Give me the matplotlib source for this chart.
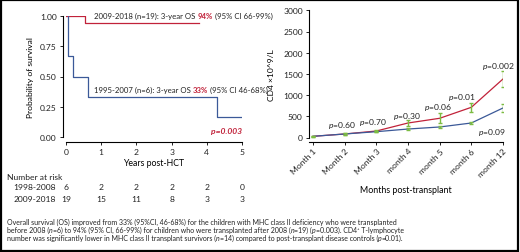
import matplotlib
matplotlib.use("Agg")
import matplotlib.pyplot as plt
from matplotlib.patches import Rectangle
from matplotlib import font_manager

names = {f.name for f in font_manager.fontManager.ttflist}
narrow = "Liberation Sans Narrow" if "Liberation Sans Narrow" in names else "Lato"
plt.rcParams['font.family'] = [narrow, 'Lato', 'DejaVu Sans']
plt.rcParams['mathtext.fontset'] = 'custom'
plt.rcParams['mathtext.rm'] = narrow
plt.rcParams['mathtext.it'] = narrow + ':italic'
plt.rcParams['mathtext.bf'] = narrow + ':bold'

# ---------------- data ----------------
km_red_t = [0.0, 0.54, 0.54, 3.78]
km_red_s = [1.00, 1.00, 0.94, 0.94]
km_blue_t = [0.06, 0.06, 0.20, 0.20, 0.63, 0.63, 4.30, 4.30, 4.99]
km_blue_s = [1.00, 0.667, 0.667, 0.50, 0.50, 0.333, 0.333, 0.167, 0.167]
year_ticks = [0, 1, 2, 3, 4, 5]
risk_1998 = [6, 2, 2, 2, 2, 0]
risk_2009 = [19, 15, 11, 8, 3, 3]

months = ["Month 1", "Month 2", "Month 3", "month 4", "month 5", "month 6", "month 12"]
cd4_red = [28, 83, 153, 342, 453, 712, 1380]
cd4_red_err = [15, 20, 25, 60, 120, 110, 185]
cd4_blue = [28, 83, 137, 200, 248, 342, 696]
cd4_blue_err = [10, 15, 15, 20, 30, 35, 90]
p_labels = ["0.60", "0.70", "0.30", "0.06", "0.01", "0.002", "0.09"]
p_pos = [(0.91, 295), (1.90, 373), (2.97, 514), (3.94, 720), (4.70, 972), (5.86, 1693), (5.66, 146)]

RED = "#c1223a"
BLUE = "#3b5998"
GREEN = "#7cbc42"
TXT = "#222222"
W, H = 520, 253

fig = plt.figure(figsize=(W / 100, H / 100), dpi=100)

def frac(x0, y0, x1, y1):
    return [x0 / W, 1 - y1 / H, (x1 - x0) / W, (y1 - y0) / H]

FS = 6.1
AFS = 5.6
N = "normal"
I = "italic"

def chain(x, y, parts, fs, transform):
    first = parts[0]
    t = fig.text(x, y, first[0], color=first[1], fontweight=first[2], style=first[3],
                 fontsize=fs, va="center", ha="left", transform=transform)
    for txt, col, wt, st in parts[1:]:
        t = fig.add_artist(matplotlib.text.Annotation(
            txt, xy=(1, 0), xycoords=t, va="bottom", ha="left", color=col,
            fontweight=wt, style=st, fontsize=fs))
    return t

# ---------------- left panel ----------------
ax = fig.add_axes(frac(66, 17, 242, 138))
ax.plot(km_red_t, km_red_s, color=RED, lw=0.9)
ax.plot(km_blue_t, km_blue_s, color=BLUE, lw=0.9)
ax.set_xlim(0, 5)
ax.set_ylim(0, 1)
ax.set_xticks(year_ticks)
ax.set_yticks([0, 0.25, 0.5, 0.75, 1.0])
ax.set_yticklabels(["0.00", "0.25", "0.50", "0.75", "1.00"])
for s in ["top", "right"]:
    ax.spines[s].set_visible(False)
ax.spines["left"].set_position(("outward", 2.2))
ax.spines["bottom"].set_position(("outward", 3.6))
for s in ["left", "bottom"]:
    ax.spines[s].set_linewidth(0.8)
ax.tick_params(labelsize=FS, length=2.5, width=0.7, pad=2, colors=TXT)
ax.set_ylabel("Probability of survival", fontsize=FS, labelpad=4)
ax.set_xlabel("Years post-HCT", fontsize=FS + 0.2, labelpad=2)

chain((94 - 66) / 176, (138 - 16) / 121,
      [("2009-2018 (n=19): 3-year OS ", TXT, N, N), ("94%", RED, "bold", N),
       (" (95% CI 66-99%)", TXT, N, N)], AFS, ax.transAxes)
chain((94 - 66) / 176, (138 - 90.5) / 121,
      [("1995-2007 (n=6): 3-year OS ", TXT, N, N), ("33%", RED, "bold", N),
       (" (95% CI 46-68%)", TXT, N, N)], AFS, ax.transAxes)
ax.text(1.0, (138 - 132) / 121, "p=0.003", color=RED, fontweight="bold", style="italic",
        fontsize=FS, ha="right", va="center", transform=ax.transAxes)

fig.text(7 / W, 1 - 178 / H, "Number at risk", fontsize=FS, ha="left", va="center", color=TXT)
fig.text(56 / W, 1 - 188 / H, "1998-2008", fontsize=FS, ha="right", va="center", color=TXT)
fig.text(56 / W, 1 - 200 / H, "2009-2018", fontsize=FS, ha="right", va="center", color=TXT)
for yr, a, b in zip(year_ticks, risk_1998, risk_2009):
    xf = (66 + yr / 5 * 176) / W
    fig.text(xf, 1 - 188 / H, str(a), fontsize=FS, ha="center", va="center", color=TXT)
    fig.text(xf, 1 - 200 / H, str(b), fontsize=FS, ha="center", va="center", color=TXT)

# ---------------- right panel ----------------
ax2 = fig.add_axes(frac(309, 11.3, 503, 138.5))
xs = list(range(len(months)))
ax2.plot(xs, cd4_red, color=RED, lw=0.9, zorder=2)
ax2.plot(xs, cd4_blue, color=BLUE, lw=0.9, zorder=2)
ax2.errorbar(xs, cd4_red, yerr=cd4_red_err, fmt="none", ecolor=GREEN, elinewidth=1.0,
             capsize=1.5, capthick=1.0, zorder=3)
ax2.errorbar(xs, cd4_blue, yerr=cd4_blue_err, fmt="none", ecolor=GREEN, elinewidth=1.0,
             capsize=1.5, capthick=1.0, zorder=3)
ax2.set_xlim(-0.126, 6)
ax2.set_ylim(0, 3000)
ax2.set_yticks(range(0, 3001, 500))
ax2.set_xticks(xs)
ax2.set_xticklabels(months)
for s in ["top", "right"]:
    ax2.spines[s].set_visible(False)
ax2.spines["bottom"].set_position(("outward", 3.3))
for s in ["left", "bottom"]:
    ax2.spines[s].set_linewidth(0.8)
ax2.tick_params(labelsize=FS, length=2.5, width=0.7, pad=2, colors=TXT)
ax2.tick_params(axis="x", labelrotation=45, pad=1)
for lab in ax2.get_xticklabels():
    lab.set_ha("right")
    lab.set_rotation_mode("anchor")
ax2.set_ylabel("CD4 ×10^9/L", fontsize=FS, labelpad=6)
ax2.set_xlabel("Months post-transplant", fontsize=FS + 0.3, labelpad=5)
for lab, (px, py) in zip(p_labels, p_pos):
    ax2.text(px, py, r"$\it{p}$=" + lab, fontsize=FS, ha="center", va="center", color=TXT)

# ---------------- caption ----------------
cap = [
    [("Overall survival (OS) improved from 33% (95%CI, 46-68%) for the children with MHC class II deficiency who were transplanted", TXT, N, N)],
    [("before 2008 (", TXT, N, N), ("n", TXT, N, I), ("=6) to 94% (95% CI, 66-99%) for children who were transplanted after 2008 (", TXT, N, N),
     ("n", TXT, N, I), ("=19) (", TXT, N, N), ("p", TXT, N, I), ("=0.003). CD4\u207a T-lymphocyte", TXT, N, N)],
    [("number was significantly lower in MHC class II transplant survivors (", TXT, N, N), ("n", TXT, N, I),
     ("=14) compared to post-transplant disease controls (", TXT, N, N), ("p", TXT, N, I), ("=0.01).", TXT, N, N)],
]
for i, parts in enumerate(cap):
    chain(7 / W, 1 - (222 + 8 * i) / H, parts, 5.0, fig.transFigure)

fig.add_artist(Rectangle((0.002, 0.003), 0.994, 0.993, transform=fig.transFigure,
                         fill=False, edgecolor="black", lw=1.6))

fig.savefig("out.png", dpi=100)
